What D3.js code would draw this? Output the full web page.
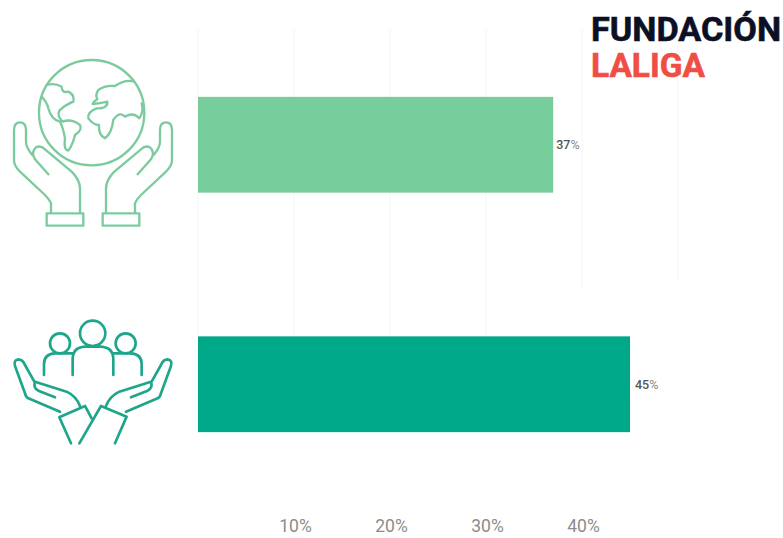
<!DOCTYPE html>
<html>
<head>
<meta charset="utf-8">
<script src="https://cdn.jsdelivr.net/npm/d3@7"></script>
<style>
  html, body { margin: 0; padding: 0; background: #fff; }
  svg { display: block; }
  text { font-family: Roboto, sans-serif; }
</style>
</head>
<body>
<div id="chart"></div>
<script>
const categories = ["Planeta", "Personas"];
const shares = [37, 45];
const barColors = ["#77cd9b", "#00a88a"];
const tickValues = [10, 20, 30, 40];
const gridValues = [0, 10, 20, 30, 40, 50];
const gridEnds = [336, 336, 336, 336, 290, 280];

const width = 783, height = 538;
const svg = d3.select("#chart").append("svg")
  .attr("width", width).attr("height", height);

const x = d3.scaleLinear().domain([0, 50]).range([198, 678]);
const y = d3.scaleBand().domain(categories).range([25, 504])
  .paddingInner(0.6).paddingOuter(0.3);

// Vertical gridlines, which stop above the lower bar
svg.append("g").selectAll("line").data(gridValues).join("line")
  .attr("x1", d => x(d)).attr("x2", d => x(d))
  .attr("y1", 27).attr("y2", (d, i) => gridEnds[i])
  .attr("stroke", "#f6f6f6").attr("stroke-width", 1);

// Bars
svg.append("g").selectAll("rect").data(categories).join("rect")
  .attr("x", x(0))
  .attr("y", d => y(d))
  .attr("width", (d, i) => x(shares[i]) - x(0))
  .attr("height", y.bandwidth())
  .attr("fill", (d, i) => barColors[i]);

// Value labels, with a lighter percent sign
const valueLabels = svg.append("g").selectAll("text").data(categories).join("text")
  .attr("x", (d, i) => x(shares[i]) + (i === 0 ? 3 : 5))
  .attr("y", d => y(d) + y.bandwidth() / 2)
  .attr("dy", "0.35em")
  .attr("font-size", 12.5)
  .attr("font-weight", 500)
  .attr("fill", "#555");
valueLabels.append("tspan").text((d, i) => shares[i]);
valueLabels.append("tspan").attr("fill", "#8a8a8a").attr("font-weight", 400).text("%");

// Percentage axis
const axis = d3.axisBottom(x).tickValues(tickValues)
  .tickFormat(d => d + "%").tickSize(0).tickPadding(0);
const axisG = svg.append("g").attr("transform", "translate(1,520)").call(axis);
axisG.select(".domain").remove();
axisG.selectAll("text")
  .attr("font-size", 17.5).attr("font-weight", 400).attr("fill", "#8c8c8c")
  .style("font-family", "Roboto, sans-serif");

// Globe held in two hands
const globeIcon = svg.append("g")
  .attr("transform", "translate(0,40) scale(0.3333)")
  .attr("fill", "none").attr("stroke", "#7ccb9f")
  .attr("stroke-width", 7).attr("stroke-linejoin", "round").attr("stroke-linecap", "round");
globeIcon.append("circle").attr("cx", 275).attr("cy", 218).attr("r", 158);
globeIcon.append("path").attr("d",
  "M140,135 Q165,128 185,140 Q185,160 205,155 Q225,165 220,185 Q195,195 178,212 Q170,228 188,245 Q215,235 240,255 Q248,270 225,285 Q218,315 205,332 Q190,330 195,295 Q190,265 180,245 Q155,240 145,205 Q140,185 125,170");
globeIcon.append("path").attr("d",
  "M400,124 Q375,118 345,138 Q315,135 295,150 Q285,165 292,178 Q280,185 278,192 Q300,190 322,185 Q325,205 290,205 Q262,215 265,235 Q280,255 297,255 Q295,285 315,295 Q335,280 340,240 Q360,212 375,230 Q400,215 418,235 Q432,215 425,190");
const leftHand = "M153,518 L153,490 Q148,478 135,465 L60,395 Q42,378 42,360 L42,270 Q42,247 60,247 Q78,247 78,270 L78,305 Q78,322 97,345 M145,403 L105,358 Q92,335 108,322 Q122,315 135,328 L215,395 Q240,420 240,445 L240,518";
globeIcon.append("path").attr("d", leftHand);
globeIcon.append("path").attr("d", leftHand).attr("transform", "translate(558,0) scale(-1,1)");
globeIcon.append("rect").attr("x", 140).attr("y", 520).attr("width", 110).attr("height", 37);
globeIcon.append("rect").attr("x", 308).attr("y", 520).attr("width", 110).attr("height", 37);

// Group of people held in two hands
const peopleIcon = svg.append("g")
  .attr("transform", "translate(0,300) scale(0.3333)")
  .attr("fill", "none").attr("stroke", "#1fa68a")
  .attr("stroke-width", 8).attr("stroke-linejoin", "round").attr("stroke-linecap", "round");
peopleIcon.append("circle").attr("cx", 278).attr("cy", 100).attr("r", 38);
peopleIcon.append("circle").attr("cx", 180).attr("cy", 130).attr("r", 30);
peopleIcon.append("circle").attr("cx", 377).attr("cy", 130).attr("r", 30);
peopleIcon.append("path").attr("d", "M218,225 L218,178 Q218,142 255,140 L302,140 Q340,142 340,178 L340,225");
peopleIcon.append("path").attr("d", "M132,225 L132,192 Q132,162 165,160 L218,160");
peopleIcon.append("path").attr("d", "M425,225 L425,192 Q425,162 392,160 L340,160");
peopleIcon.append("path").attr("d",
  "M180,335 L85,295 Q78,292 75,280 L45,198 Q40,180 55,178 Q68,178 75,195 L103,245 M165,292 L115,272 Q98,262 105,245 L200,275 Q228,288 240,318");
peopleIcon.append("path").attr("d",
  "M378,335 L473,295 Q480,292 483,280 L513,198 Q518,180 503,178 Q490,178 483,195 L455,245 M393,292 L443,272 Q460,262 453,245 L358,275 Q330,288 318,318");
peopleIcon.append("path").attr("d", "M213,430 L178,352 L255,318 L275,355");
peopleIcon.append("path").attr("d", "M345,430 L380,350 L303,318 L238,430");

// Foundation wordmark
svg.append("text").attr("x", 591).attr("y", 41)
  .attr("font-size", 34).attr("font-weight", 700).attr("fill", "#0c1024")
  .attr("stroke", "#0c1024").attr("stroke-width", 0.6)
  .attr("textLength", 190).attr("lengthAdjust", "spacingAndGlyphs")
  .text("FUNDACIÓN");
svg.append("text").attr("x", 591).attr("y", 77)
  .attr("font-size", 34).attr("font-weight", 700).attr("fill", "#f04e45")
  .attr("stroke", "#f04e45").attr("stroke-width", 0.6)
  .attr("textLength", 114).attr("lengthAdjust", "spacingAndGlyphs")
  .text("LALIGA");
</script>
</body>
</html>
